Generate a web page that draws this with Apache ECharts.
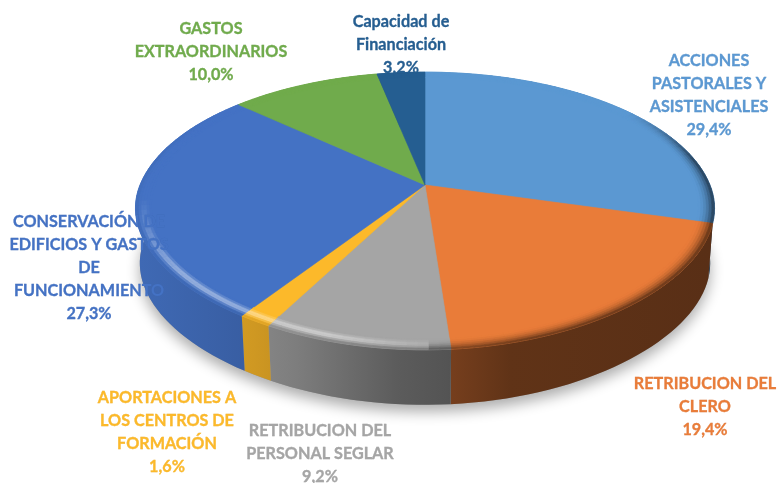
<!DOCTYPE html>
<html><head><meta charset="utf-8">
<style>html,body{margin:0;padding:0;background:#fff}#c{width:778px;height:483px}</style>
<script src="https://cdn.jsdelivr.net/npm/echarts@6/dist/echarts.min.js"></script>
</head><body><div id="c"></div>
<script>
const categories = [
  "ACCIONES\nPASTORALES Y\nASISTENCIALES",
  "RETRIBUCION DEL\nCLERO",
  "RETRIBUCION DEL\nPERSONAL SEGLAR",
  "APORTACIONES A\nLOS CENTROS DE\nFORMACIÓN",
  "CONSERVACIÓN DE\nEDIFICIOS Y GASTOS\nDE\nFUNCIONAMIENTO",
  "GASTOS\nEXTRAORDINARIOS",
  "Capacidad de\nFinanciación"
];
const values = [29.4, 19.4, 9.2, 1.6, 27.3, 10.0, 3.2];
const colors = ["#5b98d2", "#e97c39", "#a5a5a5", "#fcb92a", "#4472c4", "#70ab4c", "#255e91"];
// label block centres (layout only)
const labelX = [709, 705, 320, 167, 89, 211, 401];
const labelY = [95, 407, 454, 432, 268, 52, 45];

const total = values.reduce((a, b) => a + b, 0);
const CX = 425, CY = 185, RX = 285, RY = 134, K = 0.187, WARP = 18, DEPTH = 55, BOTTOM_SCALE = 0.985;
const FONT = 'bold 16.2px Lato';

function project(r, th, drop) {
  const u = r * Math.sin(th), v = -r * Math.cos(th), w = 1 - K * v;
  const s = drop ? BOTTOM_SCALE : 1;
  const warp = v > 0 ? -WARP * u * v * v : 0;
  return [CX + s * RX * u / w + warp, CY + RY * v / w + (drop ? DEPTH : 0)];
}
const clamp = (x, a, b) => Math.max(a, Math.min(b, x));
function rgb(hex) { return [1, 3, 5].map(i => parseInt(hex.substr(i, 2), 16)); }
function css(c) { return 'rgb(' + c.map(x => Math.round(clamp(x, 0, 255))).join(',') + ')'; }
function mix(a, b, t) { return a.map((x, i) => x + (b[i] - x) * t); }
const WALL_STOPS = [[-1, .92], [-.6, .82], [-.45, .76], [-.1, .56], [.1, .5], [.3, .41], [1, .38]];
function wallFactor(u) {
  for (let i = 1; i < WALL_STOPS.length; i++) {
    if (u <= WALL_STOPS[i][0]) {
      const t = (u - WALL_STOPS[i - 1][0]) / (WALL_STOPS[i][0] - WALL_STOPS[i - 1][0]);
      return WALL_STOPS[i - 1][1] + (WALL_STOPS[i][1] - WALL_STOPS[i - 1][1]) * t;
    }
  }
  return .38;
}
function poly(points, fill, z2, extra) {
  return { type: 'polygon', silent: true, z2: z2,
    shape: { points: points },
    style: Object.assign({ fill: fill, stroke: fill, lineWidth: 0.6 }, extra || {}) };
}
function renderItem(params, api) {
  const i = params.dataIndex;
  const val = api.value(0);
  let before = 0;
  for (let j = 0; j < i; j++) before += values[j];
  const a0 = before / total * Math.PI * 2, a1 = (before + val) / total * Math.PI * 2;
  const base = rgb(colors[i]);
  const children = [];
  const STEP = Math.PI / 90;
  const n = Math.max(1, Math.ceil((a1 - a0) / STEP));
  const ang = k => a0 + (a1 - a0) * k / n;

  if (i === 0) {
    const rim = [];
    for (let k = 0; k < 120; k++) rim.push(project(1, k / 120 * Math.PI * 2, true));
    children.push({ type: 'polygon', silent: true, z2: 0, shape: { points: rim },
      style: { fill: '#999', shadowColor: 'rgba(0,0,0,0.33)', shadowBlur: 14, shadowOffsetY: 7 } });
  }
  // side wall: one shape per slice, shaded across its width
  const wallPts = [];
  for (let k = 0; k <= n; k++) wallPts.push(project(1, ang(k)));
  for (let k = n; k >= 0; k--) wallPts.push(project(1, ang(k), true));
  children.push({ type: 'polygon', silent: true, z2: 1, shape: { points: wallPts },
    style: { stroke: null, fill: { type: 'linear', global: true, x: CX - RX, y: 0, x2: CX + RX, y2: 0,
      colorStops: WALL_STOPS.map(s => ({ offset: (s[0] + 1) / 2, color: css(base.map(c => c * s[1])) })) } } });
  // top face
  const top = [[CX, CY]];
  for (let k = 0; k <= n; k++) top.push(project(1, ang(k)));
  children.push(poly(top, colors[i], 2));
  // bevel rings
  const BANDS = 6, R0 = 0.945;
  for (let b = 0; b < BANDS; b++) {
    const r0 = R0 + (1 - R0) * b / BANDS, r1 = R0 + (1 - R0) * (b + 1) / BANDS;
    const t = (b + .5) / BANDS;
    for (let k = 0; k < n; k++) {
      const t0 = ang(k), t1 = ang(k + 1), mid = (t0 + t1) / 2;
      const u = Math.sin(mid), v = -Math.cos(mid);
      const wv = clamp((v + 0.6) / 0.4, 0, 1);
      const hi = clamp((0.1 - u) / 0.4, 0, 1) * clamp((v - 0.1) / 0.5, 0, 1);
      const prof = clamp(1 - Math.abs(t - 0.5) / 0.35, 0, 1);
      let c = mix(base, [255, 255, 255], 0.55 * hi * prof);
      const wall = base.map(x => x * wallFactor(u));
      const dark = (u > 0 ? t * t : Math.pow(t, 6) * 0.8) * wv;
      c = mix(c, wall, dark);
      children.push(poly([project(r0, t0), project(r0, t1), project(r1, t1), project(r1, t0)], css(c), 3));
    }
  }
  // label
  const pct = val.toFixed(1).replace('.', ',') + '%';
  children.push({ type: 'text', silent: true, z2: 10, x: labelX[i], y: labelY[i],
    style: { text: categories[i] + '\n' + pct, font: FONT, fill: colors[i],
      stroke: css(base.map(c => c * 0.92)), lineWidth: 0.3,
      align: 'center', verticalAlign: 'middle', lineHeight: 23 } });
  return { type: 'group', children: children };
}
const chart = echarts.init(document.getElementById('c'), null, { renderer: 'canvas', width: 778, height: 483 });
chart.setOption({
  animation: false,
  backgroundColor: '#ffffff',
  series: [{ type: 'custom', coordinateSystem: 'none', clip: false,
    data: values.map(v => [v]), renderItem: renderItem }]
});
</script></body></html>
